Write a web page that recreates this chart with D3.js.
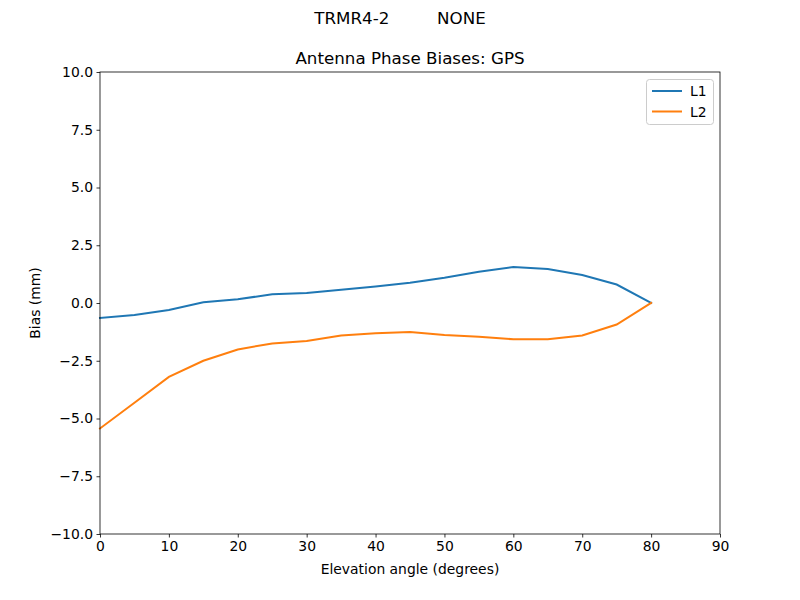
<!DOCTYPE html>
<html><head><meta charset="utf-8">
<script src="https://cdn.jsdelivr.net/npm/d3@7"></script>
<style>
body{margin:0;background:#fff;}
text{font-family:"DejaVu Sans",sans-serif;fill:#000;}
</style></head>
<body><svg id="c" width="800" height="600"></svg>
<script>
const elevation = [0,5,10,15,20,25,30,35,40,45,50,55,60,65,70,75,80];
const l1 = [-0.65,-0.52,-0.30,0.03,0.16,0.38,0.43,0.57,0.71,0.88,1.09,1.35,1.56,1.47,1.21,0.80,0.0];
const l2 = [-5.43,-4.32,-3.20,-2.50,-2.01,-1.75,-1.64,-1.41,-1.31,-1.26,-1.39,-1.46,-1.57,-1.57,-1.41,-0.93,0.0];
const seriesNames = ["L1","L2"];
const colors = ["#1f77b4","#ff7f0e"];
const xTicks = [0,10,20,30,40,50,60,70,80,90];
const yTicks = [-10,-7.5,-5,-2.5,0,2.5,5,7.5,10];
const supTitle = "TRMR4-2         NONE";
const title = "Antenna Phase Biases: GPS";

const svg = d3.select("#c");
const L=100,R=720,T=72,B=534;
const x = d3.scaleLinear().domain([0,90]).range([L,R]);
const y = d3.scaleLinear().domain([-10,10]).range([B,T]);

const fmt = v => (v<0?"\u2212":"") + Math.abs(v).toFixed(1);

const xa = svg.append("g").attr("transform",`translate(0,${B})`)
  .call(d3.axisBottom(x).tickValues(xTicks).tickSize(3.5).tickPadding(3.5).tickFormat(d3.format("d")));
const ya = svg.append("g").attr("transform",`translate(${L},0)`)
  .call(d3.axisLeft(y).tickValues(yTicks).tickSize(3.5).tickPadding(3.5).tickFormat(fmt));
[xa,ya].forEach(a=>{
  a.select(".domain").remove();
  a.selectAll("line").attr("stroke","#000").attr("stroke-width",0.8);
  a.selectAll("text").style("font-size","13.9px").style("font-family","DejaVu Sans").attr("fill","#000");
});

const series=[l1,l2];
const line = d3.line().x((d,i)=>x(elevation[i])).y(d=>y(d));
series.forEach((s,k)=>{
  svg.append("path").datum(s).attr("d",line).attr("fill","none")
    .attr("stroke",colors[k]).attr("stroke-width",2).attr("stroke-linecap","square");
});

svg.append("rect").attr("x",L).attr("y",T).attr("width",R-L).attr("height",B-T)
  .attr("fill","none").attr("stroke","#000").attr("stroke-width",0.8);

svg.append("text").attr("x",400).attr("y",24).attr("text-anchor","middle")
  .style("font-size","16.7px").style("white-space","pre").attr("xml:space","preserve").text(supTitle);
svg.append("text").attr("x",410).attr("y",64).attr("text-anchor","middle")
  .style("font-size","16.7px").text(title);
svg.append("text").attr("x",410).attr("y",574).attr("text-anchor","middle")
  .style("font-size","13.9px").text("Elevation angle (degrees)");
svg.append("text").attr("transform","translate(40,303) rotate(-90)").attr("text-anchor","middle")
  .style("font-size","13.9px").text("Bias (mm)");

const lg = svg.append("g");
lg.append("rect").attr("x",646.5).attr("y",79.5).attr("width",67).attr("height",45).attr("rx",3)
  .attr("fill","#fff").attr("fill-opacity",0.8).attr("stroke","#ccc").attr("stroke-width",1);
seriesNames.forEach((n,k)=>{
  const yy = 91 + k*20.5;
  lg.append("line").attr("x1",652).attr("x2",682).attr("y1",yy).attr("y2",yy)
    .attr("stroke",colors[k]).attr("stroke-width",2);
  lg.append("text").attr("x",690).attr("y",yy+5).style("font-size","13.9px").text(n);
});
</script></body></html>
